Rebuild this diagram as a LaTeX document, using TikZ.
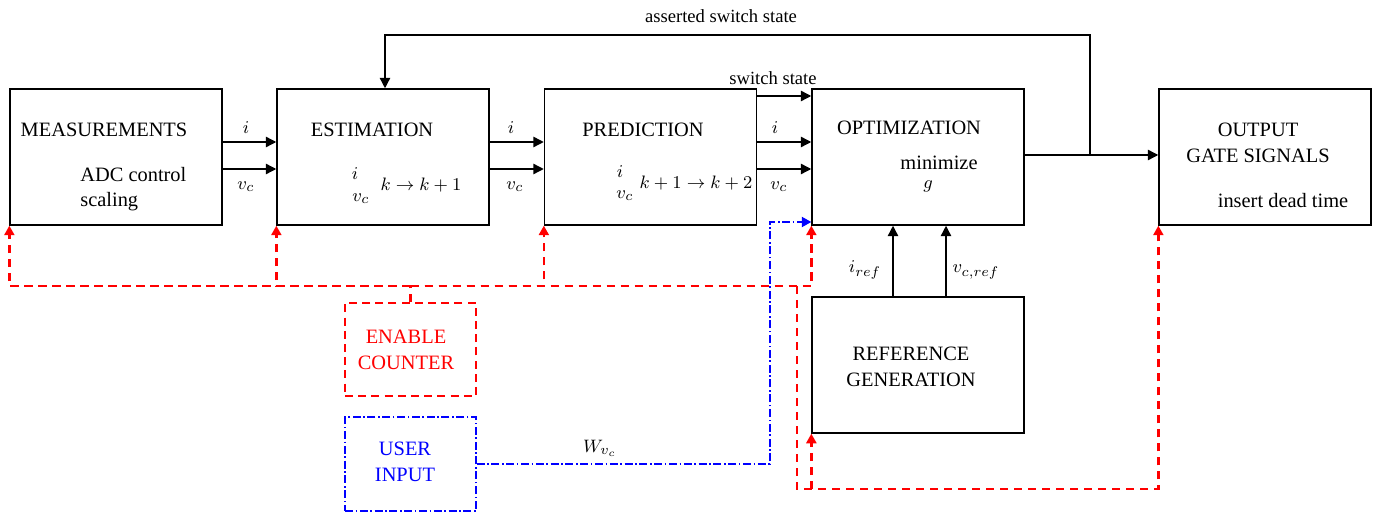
\documentclass[tikz,border=0pt]{standalone}
\usepackage{fontspec}
\setmainfont{Liberation Serif}
\usetikzlibrary{arrows.meta,calc}
\begin{document}
\begin{tikzpicture}[x=0.5pt,y=-0.5pt,
  box/.style={draw,line width=0.65pt,minimum width=106pt,minimum height=68pt,inner sep=0pt},
  rbox/.style={draw=red,line width=0.65pt,dash pattern=on 4pt off 2.6pt,minimum width=65.5pt,minimum height=46.5pt,inner sep=0pt},
  bbox/.style={draw=blue,line width=0.65pt,dash pattern=on 4pt off 1.3pt on 0.8pt off 1.3pt,minimum width=65.5pt,minimum height=47pt,inner sep=0pt},
  bt/.style={inner sep=0pt,font=\fontsize{10.2}{12.8}\selectfont},
  mt/.style={inner sep=0pt,font=\fontsize{9.5}{11}\selectfont},
  lt/.style={inner sep=0pt,font=\fontsize{9.3}{11}\selectfont},
  arr/.style={line width=1.1pt,-{Triangle[length=5.2pt,width=5pt]}},
  rln/.style={red,line width=1.15pt,dash pattern=on 4.2pt off 2.8pt},
  rarr/.style={rln,-{Triangle[length=4.8pt,width=5pt]}},
  barr/.style={blue,line width=1.1pt,dash pattern=on 4pt off 1.3pt on 0.8pt off 1.3pt,-{Triangle[length=4.8pt,width=5pt]}}]
\useasboundingbox (0,0) rectangle (1381,513);
% boxes
\node[box] (meas) at (116,157) {};
\node[box] (est) at (383,157) {};
\node[box] (pred) at (650.5,157) {};
\node[box] (opt) at (918,157) {};
\node[box] (out) at (1265,157) {};
\node[box] (ref) at (918,365) {};
\node[rbox] (enc) at (410.5,349.5) {};
\node[bbox] (ui) at (410.5,464) {};
% box texts
\node[bt] (measT) at (104,130) {MEASUREMENTS};
\node[bt,anchor=west,align=left] (measS) at (80,189) {ADC control\\scaling};
\node[bt] (estT) at (372,130) {ESTIMATION};
\node[mt] (estI) at (355,174) {$i$};
\node[mt] (estV) at (361,199) {$v_c$};
\node[mt] (estK) at (421,185) {$k\rightarrow k+1$};
\node[bt] (predT) at (643,130) {PREDICTION};
\node[mt] (predI) at (620,172) {$i$};
\node[mt] (predV) at (625,196) {$v_c$};
\node[mt] (predK) at (696,183) {$k+1\rightarrow k+2$};
\node[bt] (optT) at (909,128) {OPTIMIZATION};
\node[bt] (optM) at (939,163) {minimize};
\node[mt] (optG) at (928,186) {$g$};
\node[bt,align=center] (outT) at (1258,143) {OUTPUT\\GATE SIGNALS};
\node[bt] (outD) at (1283,201) {insert dead time};
\node[bt,align=center] (refT) at (911,367) {REFERENCE\\GENERATION};
\node[bt,align=center,text=red] (encT) at (406,350) {ENABLE\\COUNTER};
\node[bt,align=center,text=blue] (uiT) at (405,462) {USER\\INPUT};
% black connectors
\draw[arr] (meas.east |- 0,142) -- (est.west |- 0,142);
\draw[arr] (meas.east |- 0,169) -- (est.west |- 0,169);
\draw[arr] (est.east |- 0,142) -- (pred.west |- 0,142);
\draw[arr] (est.east |- 0,169) -- (pred.west |- 0,169);
\draw[arr] (pred.east |- 0,96) -- (opt.west |- 0,96);
\draw[arr] (pred.east |- 0,142) -- (opt.west |- 0,142);
\draw[arr] (pred.east |- 0,169) -- (opt.west |- 0,169);
\coordinate (j) at (1090,155);
\coordinate (tl) at (385,35);
\draw[arr] (opt.east |- j) -- (out.west |- j);
\draw[arr] (j) |- (tl) -- (est.north -| tl);
\draw[arr] (ref.north -| 893,0) -- (opt.south -| 893,0);
\draw[arr] (ref.north -| 946,0) -- (opt.south -| 946,0);
% labels
\node[lt] (l1) at (246,128) {$i$};
\node[lt] (l2) at (246,187) {$v_c$};
\node[lt] (l3) at (511,128) {$i$};
\node[lt] (l4) at (515,187) {$v_c$};
\node[lt] (l5) at (775,128) {$i$};
\node[lt] (l6) at (779,187) {$v_c$};
\node[lt] (l7) at (773,78) {switch state};
\node[lt] (l8) at (721,16) {asserted switch state};
\node[lt] (l9) at (865,270) {$i_{ref}$};
\node[lt] (l10) at (976,272) {$v_{c,ref}$};
\node[lt] (l11) at (600,448) {$W_{v_c}$};
% red dashed network
\coordinate (rb) at (410.5,286);
\coordinate (rj) at (797,286);
\coordinate (rk) at (797,489);
\draw[rln] (enc.north) -- (rb);
\draw[rarr] (rb) -| (meas.south west);
\draw[rarr] (rb) -| (est.south west);
\draw[rarr] (rb) -| (pred.south west);
\draw[rarr] (rb) -| (opt.south west);
\draw[rarr] (rj) -- (rk) -| (out.south west);
\draw[rarr] (ref.south west |- rk) -- (ref.south west);
% blue dash-dot
\coordinate (bc) at (770,222);
\draw[barr] (ui.east) -| (bc) -- (opt.south west |- bc);
\end{tikzpicture}
\end{document}
